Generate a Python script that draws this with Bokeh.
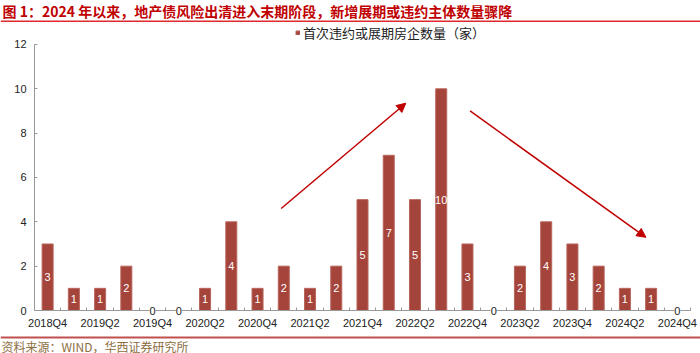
from bokeh.plotting import figure
from bokeh.models import (Range1d, FixedTicker, Arrow, NormalHead, ColumnDataSource,
                          Legend, LegendItem)
from bokeh.layouts import column
from bokeh.embed import file_html
from bokeh.resources import INLINE
from bokeh.core.properties import value

# ---------------- data ----------------
quarters = ["2018Q4", "2019Q1", "2019Q2", "2019Q3", "2019Q4", "2020Q1", "2020Q2", "2020Q3",
            "2020Q4", "2021Q1", "2021Q2", "2021Q3", "2021Q4", "2022Q1", "2022Q2", "2022Q3",
            "2022Q4", "2023Q1", "2023Q2", "2023Q3", "2023Q4", "2024Q1", "2024Q2", "2024Q3",
            "2024Q4"]
counts = [3, 1, 1, 2, 0, 0, 1, 4, 1, 2, 1, 2, 5, 7, 5, 10, 3, 0, 2, 4, 3, 2, 1, 1, 0]
y_ticks = [0, 2, 4, 6, 8, 10, 12]

title_text = "图 1：2024 年以来，地产债风险出清进入末期阶段，新增展期或违约主体数量骤降"
legend_text = "首次违约或展期房企数量（家）"
source_text = "资料来源：WIND，华西证券研究所"

# trend arrows (x in quarter index, y in count units): x0, y0, x1, y1
arrow_up = (8.9, 4.6, 13.65, 9.35)
arrow_down = (16.1, 9.0, 22.8, 3.3)

CJK = "Noto Sans CJK SC"
LAT = "Liberation Sans"
BAR = "#a5443a"
RED = "#c00000"

# ---------------- top strip: title + rule ----------------
top = figure(width=700, height=22, x_range=Range1d(0, 700), y_range=Range1d(22, 0),
             toolbar_location=None, output_backend="svg", min_border=0,
             x_axis_location=None, y_axis_location=None)
top.grid.visible = False
top.outline_line_color = None
top.text(x=[2], y=[10], text=[title_text], text_font=value(CJK), text_font_size="14px",
         text_font_style="bold", text_color=RED, text_baseline="middle", text_align="left")
top.segment(x0=[0], y0=[21], x1=[700], y1=[21], line_color="#e0282e", line_width=2)

# ---------------- main chart ----------------
xs = list(range(len(quarters)))
n = len(quarters)
p = figure(width=700, height=309, x_range=Range1d(-1.796, n - 0.119),
           y_range=Range1d(-0.947, 12.99), toolbar_location=None, output_backend="svg",
           min_border_left=0, min_border_right=0, min_border_top=0, min_border_bottom=0)
p.grid.visible = False
p.outline_line_color = None

src = ColumnDataSource(dict(x=xs, count=counts))
r = p.vbar(x="x", top="count", width=0.42, source=src, fill_color=BAR,
           line_color="#b8665d", line_width=1)

nz = [i for i, c in enumerate(counts) if c > 0]
zz = [i for i, c in enumerate(counts) if c == 0]
p.text(x=[xs[i] for i in nz], y=[counts[i] / 2 for i in nz], text=[str(counts[i]) for i in nz],
       text_align="center", text_baseline="middle", text_color="white",
       text_font_size="11px", text_font=value(LAT))

for (x0, y0, x1, y1) in (arrow_up, arrow_down):
    p.add_layout(Arrow(end=NormalHead(size=9, fill_color=RED, line_color=RED, line_width=1),
                       x_start=x0, y_start=y0, x_end=x1, y_end=y1,
                       line_color=RED, line_width=1.5))

legend = Legend(items=[LegendItem(label=legend_text, renderers=[r])], location=(295, 289),
                orientation="horizontal", glyph_width=5, glyph_height=5,
                label_text_font_size="13px", label_text_font=CJK, label_text_color="#222222",
                label_standoff=3, padding=2, margin=0, border_line_color=None,
                background_fill_alpha=0, label_height=14, spacing=0)
p.add_layout(legend)

ax = p.xaxis[0]
ax.fixed_location = 0
ax.bounds = (-0.5, n - 0.5)
ax.ticker = FixedTicker(ticks=xs[::2], minor_ticks=[i + 0.5 for i in range(-1, n)])
ax.major_label_overrides = {i: quarters[i] for i in xs[::2]}
ax.major_tick_in = 0
ax.major_tick_out = 0
ax.minor_tick_in = 3
ax.minor_tick_out = 0
ax.minor_tick_line_color = "#999999"
ax.axis_line_color = "#999999"
ax.major_label_standoff = 6
ax.major_label_text_font = LAT
ax.major_label_text_font_size = "11px"
ax.major_label_text_color = "#222222"

ay = p.yaxis[0]
ay.fixed_location = -0.5
ay.ticker = FixedTicker(ticks=y_ticks)
ay.bounds = (0, 12)
ay.major_tick_in = 3
ay.major_tick_out = 0
ay.minor_tick_in = 0
ay.minor_tick_out = 0
ay.major_tick_line_color = "#999999"
ay.axis_line_color = "#999999"
ay.major_label_standoff = 8
ay.major_label_text_font = LAT
ay.major_label_text_font_size = "11px"
ay.major_label_text_color = "#222222"

# zero-value labels sit on the axis line
p.text(x=[xs[i] for i in zz], y=[counts[i] for i in zz], text=[str(counts[i]) for i in zz],
       text_align="center", text_baseline="middle", text_color="#222222",
       text_font_size="11px", text_font=value(LAT),
       background_fill_color="white", level="overlay")

# ---------------- bottom strip: rule + source ----------------
bot = figure(width=700, height=22, x_range=Range1d(0, 700), y_range=Range1d(22, 0),
             toolbar_location=None, output_backend="svg", min_border=0,
             x_axis_location=None, y_axis_location=None)
bot.grid.visible = False
bot.outline_line_color = None
bot.segment(x0=[0], y0=[6], x1=[700], y1=[6], line_color="#c0504d", line_width=2)
bot.text(x=[1], y=[14.5], text=[source_text], text_font=value(CJK), text_font_size="12px",
         text_color="#8d6e3f", text_baseline="middle", text_align="left")

layout = column(top, p, bot, spacing=0)
open("out.html", "w").write(file_html(layout, INLINE))
